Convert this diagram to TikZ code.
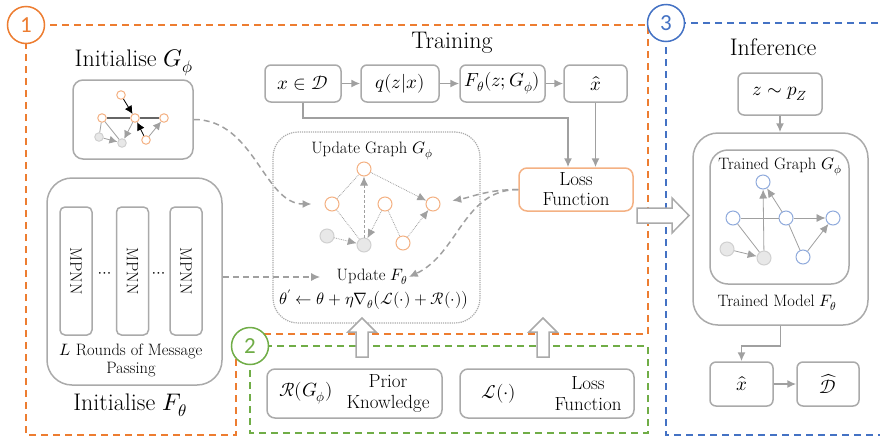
\documentclass[tikz,border=0pt]{standalone}
\usepackage{fontspec}
\usepackage{unicode-math}
\newfontfamily\numfont{Carlito}
\usetikzlibrary{calc}
\usetikzlibrary{arrows.meta}

\definecolor{regorange}{RGB}{237,125,49}
\definecolor{reggreen}{RGB}{112,173,71}
\definecolor{regblue}{RGB}{68,114,196}
\definecolor{boxgrey}{RGB}{170,170,170}
\definecolor{linegrey}{RGB}{160,160,160}
\definecolor{nodeorange}{RGB}{244,177,131}
\definecolor{nodeblue}{RGB}{143,170,220}
\definecolor{nodegreyfill}{RGB}{232,232,232}
\definecolor{nodegreyline}{RGB}{208,208,208}

\tikzset{
  region/.style={draw=#1,line width=1.5pt,dash pattern=on 7pt off 5pt},
  numcirc/.style={circle,draw=#1,text=#1,fill=white,line width=1.5pt,
    minimum size=37pt,inner sep=0pt,font=\numfont\fontsize{23pt}{25pt}\selectfont},
  box/.style={draw=boxgrey,line width=1.5pt,rounded corners=6pt,fill=white,
    inner sep=0pt,font=\fontsize{19pt}{20pt}\selectfont},
  ttl/.style={font=\fontsize{24pt}{27pt}\selectfont},
  boxtxt/.style={font=\fontsize{19pt}{21pt}\selectfont},
  smalltxt/.style={font=\fontsize{16.5pt}{18pt}\selectfont},
  conn/.style={draw=linegrey,line width=1.5pt,->},
  dashconn/.style={draw=linegrey,line width=1.5pt,dash pattern=on 6pt off 4pt,->},
  hollow/.style={draw=boxgrey,line width=1.5pt,fill=white},
  gnode/.style={circle,draw=#1,fill=white,line width=1pt,minimum size=14pt,inner sep=0pt},
  greynode/.style={circle,draw=nodegreyline,fill=nodegreyfill,line width=1pt,minimum size=14pt,inner sep=0pt},
  tiny/.style={minimum size=8.5pt},
  edge/.style={draw=linegrey,line width=0.8pt},
}

\begin{document}
\begin{tikzpicture}[x=1pt,y=-1pt,>={Latex[length=9pt,width=8pt]}]
\useasboundingbox (0,0) rectangle (880,437);

% the three dashed regions
\draw[region=regorange] (26,25) -| (648,334) -| (236,435) -| (26,25) -- cycle;
\draw[region=reggreen] (250,346) rectangle (648,433);
\draw[region=regblue] (666,23) rectangle (900,435);

% ---- Initialise G
\node[ttl] (initG) at (134,63) {Initialise $G_\phi$};
\node[box,rounded corners=10pt,minimum width=120pt,minimum height=79pt] (gbox) at (133,119.5) {};
\node[gnode=nodeorange,tiny] (s1) at (121,95) {};
\node[gnode=nodeorange,tiny] (s2) at (102,118) {};
\node[gnode=nodeorange,tiny] (s3) at (135,118) {};
\node[gnode=nodeorange,tiny] (s4) at (164,118) {};
\node[greynode,tiny] (s5) at (99,137) {};
\node[greynode,tiny] (s6) at (122,143) {};
\node[gnode=nodeorange,tiny] (s7) at (146,140) {};
\draw[draw=black!60,line width=1.3pt] (s2) -- (s3) -- (s4);
\draw[edge] (s2) -- (s5);
\draw[edge] (s2) -- (s6);
\draw[edge,-{Latex[length=8pt,width=8pt]}] (s5) -- (s6);
\draw[edge,-{Latex[length=8pt,width=8pt]}] (s3) -- (s6);
\draw[edge,-{Latex[length=8pt,width=8pt]}] (s7) -- (s4);
\draw[black,line width=0.8pt,-{Latex[length=8pt,width=8pt]}] (s1) -- (s3);
\draw[black,line width=0.8pt,-{Latex[length=8pt,width=8pt]}] (s7) -- (s3);

% ---- Initialise F
\node[box,rounded corners=25pt,minimum width=175pt,minimum height=207pt] (fbox) at (134.5,281.5) {};
\foreach \mx/\mn in {76/mp1,132.5/mp2,186/mp3}
  \node[box,rounded corners=5pt,minimum width=32pt,minimum height=128pt] (\mn) at (\mx,271) {};
\foreach \mn in {mp1,mp2,mp3}
  \node[smalltxt,rotate=-90] at (\mn) {MPNN};
\node[smalltxt] (dots1) at (104.5,275) {$\cdots$};
\node[smalltxt] (dots2) at (159,275) {$\cdots$};
\node[smalltxt,align=center] (rounds) at (131,360) {$L$ Rounds of Message\\Passing};
\node[ttl] (initF) at (130,405) {Initialise $F_\theta$};

% ---- Training
\node[ttl] (train) at (452,43) {Training};
\node[box,minimum width=76pt,minimum height=37pt] (x1) at (303,83.5) {$x\in\mathcal{D}$};
\node[box,minimum width=78pt,minimum height=37pt] (q) at (400,83.5) {$q(z|x)$};
\node[box,minimum width=85pt,minimum height=37pt] (F) at (502.5,83.5) {$F_\theta(z;G_\phi)$};
\node[box,minimum width=63pt,minimum height=37pt] (xh) at (595.5,83.5) {$\hat{x}$};
\node[box,draw=nodeorange,rounded corners=8pt,minimum width=114pt,minimum height=43pt,align=center] (loss) at (576,189.5) {Loss\\Function};
\draw[conn] (x1) -- (q);
\draw[conn] (q) -- (F);
\draw[conn] (F) -- (xh);
\draw[conn] (x1.south) -- ++(0,15) -| ([xshift=-8pt]loss.north);
\draw[conn] (xh.south) -- (xh.south |- loss.north);

% update box
\node[draw=boxgrey,line width=1.2pt,densely dotted,rounded corners=25pt,minimum width=207pt,minimum height=191pt] (upbox) at (376.5,227.5) {};
\node[smalltxt] (updG) at (372,151) {Update Graph $G_\phi$};
\node[gnode=nodeorange] (uA) at (364,169) {};
\node[gnode=nodeorange] (uB) at (332,204) {};
\node[gnode=nodeorange] (uC) at (385,204) {};
\node[gnode=nodeorange] (uD) at (433,204) {};
\node[greynode] (uE) at (327,236) {};
\node[greynode] (uF) at (364,245) {};
\node[gnode=nodeorange] (uG) at (403,243) {};
\draw[edge,densely dotted] (uB) -- (uA);
\draw[edge,densely dotted,->] (uA) -- (uD);
\draw[edge,densely dashed,->] (uF) -- (uA);
\draw[edge,densely dotted] (uB) -- (uF);
\draw[edge,densely dotted,->] (uC) -- (uF);
\draw[edge,densely dotted] (uC) -- (uG);
\draw[edge,densely dotted,->] (uG) -- (uD);
\draw[edge,densely dotted,->] (uE) -- (uF);
\node[smalltxt] (updF) at (372,277) {Update $F_\theta$};
\node[smalltxt] (rule) at (374,300) {$\theta^{\prime}\leftarrow\theta+\eta\nabla_\theta\big(\mathcal{L}(\cdot)+\mathcal{R}(\cdot)\big)$};

% dashed links
\draw[dashconn,shorten >=13pt] (gbox.east) to[out=0,in=180] (uB);
\draw[dashconn,shorten >=13pt] (fbox.east |- updF.west) -- (updF.west);
\draw[dashconn,shorten >=12pt] (loss.west) to[out=180,in=10] (uD);
\draw[dashconn] (loss.west) to[out=180,in=25] ([xshift=-2pt]updF.east);

% ---- prior knowledge
\node[box,rounded corners=8pt,minimum width=175pt,minimum height=49pt] (prior) at (354.5,393.5) {};
\node[boxtxt] (priorR) at (306,393.5) {$\mathcal{R}(G_\phi)$};
\node[boxtxt,align=center] (priorT) at (388,393.5) {Prior\\Knowledge};
\node[box,rounded corners=8pt,minimum width=174pt,minimum height=49pt] (lossf) at (547,393.5) {};
\node[boxtxt] (lossL) at (499,393.5) {$\mathcal{L}(\cdot)$};
\node[boxtxt,align=center] (lossT) at (588,393.5) {Loss\\Function};
\foreach \ax in {362,543}
  \draw[hollow] (\ax-6,357) -- (\ax-6,332) -- (\ax-14,332) -- (\ax,318)
    -- (\ax+14,332) -- (\ax+6,332) -- (\ax+6,357) -- cycle;

% ---- Inference
\draw[hollow] (637,208) -- (672,208) -- (672,198) -- (689,215.5)
  -- (672,233) -- (672,223) -- (637,223) -- cycle;
\node[ttl] (infer) at (773,47) {Inference};
\node[box,minimum width=84pt,minimum height=42pt] (z) at (780,94) {$z\sim p_Z$};
\node[box,rounded corners=25pt,minimum width=175pt,minimum height=192pt] (model) at (780.5,229) {};
\node[box,rounded corners=18pt,minimum width=139pt,minimum height=134pt] (tgraph) at (779.5,217) {};
\node[smalltxt] (tgraphT) at (780,167) {Trained Graph $G_\phi$};
\node[smalltxt] (modelT) at (777,303) {Trained Model $F_\theta$};
\node[gnode=nodeblue] (tT) at (763,182) {};
\node[gnode=nodeblue] (tL) at (733,218) {};
\node[gnode=nodeblue] (tC) at (786,218) {};
\node[gnode=nodeblue] (tR) at (833,218) {};
\node[greynode] (tGL) at (727,249) {};
\node[greynode] (tGC) at (764,258) {};
\node[gnode=nodeblue] (tB) at (803,257) {};
\draw[edge] (tL) -- (tC);
\draw[edge,->] (tC) -- (tR);
\draw[edge,->] (tC) -- (tT);
\draw[edge,->] (tGC) -- (tT);
\draw[edge] (tL) -- (tGC);
\draw[edge,->] (tGL) -- (tGC);
\draw[edge] (tC) -- (tB);
\draw[edge,->] (tB) -- (tR);
\draw[conn] (z) -- (z |- model.north);
\node[box,minimum width=63pt,minimum height=44pt] (xhI) at (741.5,384) {$\hat{x}$};
\node[box,minimum width=62pt,minimum height=44pt] (Dhat) at (828,384) {$\widehat{\mathcal{D}}$};
\draw[conn] (model.south) -- ++(0,20) -| (xhI.north);
\draw[conn] (xhI) -- (Dhat);

% numbers
\node[numcirc=regorange] (c1) at (26,25) {1};
\node[numcirc=reggreen] (c2) at (250,346) {2};
\node[numcirc=regblue] (c3) at (666,23) {3};
\end{tikzpicture}
\end{document}
